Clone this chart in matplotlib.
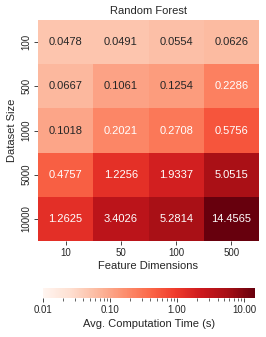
import matplotlib
matplotlib.use("Agg")
import matplotlib.pyplot as plt
import numpy as np
import seaborn as sns
from matplotlib.colors import LogNorm
from matplotlib.ticker import FormatStrFormatter

dataset_sizes = ["100", "500", "1000", "5000", "10000"]
feature_dims = ["10", "50", "100", "500"]
times = np.array([
	[0.0478, 0.0491, 0.0554, 0.0626],
	[0.0667, 0.1061, 0.1254, 0.2286],
	[0.1018, 0.2021, 0.2708, 0.5756],
	[0.4757, 1.2256, 1.9337, 5.0515],
	[1.2625, 3.4026, 5.2814, 14.4565],
])
cbar_ticks = [0.01, 0.1, 1.0, 10.0]

sns.set_style("ticks")
plt.rcParams["font.family"] = ["Liberation Sans", "DejaVu Sans"]
plt.rcParams["text.color"] = "#262626"

fig = plt.figure(figsize=(2.66, 3.37), dpi=100)
ax = fig.add_axes([38 / 266, 1 - 241 / 337, 221 / 266, 221 / 337])
cax = fig.add_axes([43 / 266, 1 - 298 / 337, 212 / 266, 10 / 337])

norm = LogNorm(vmin=0.01, vmax=times.max())
sns.heatmap(
	times, ax=ax, cmap="Reds", norm=norm, annot=True, fmt=".4f",
	annot_kws={"size": 8}, xticklabels=feature_dims, yticklabels=dataset_sizes,
	cbar_ax=cax, cbar_kws={"orientation": "horizontal"},
)
# light text on the darker cells
for txt, val in zip(ax.texts, times.flatten()):
	txt.set_color("white" if val > 0.15 else "#262626")

ax.set_title("Random Forest", fontsize=8, pad=4)
ax.set_xlabel("Feature Dimensions", fontsize=8, labelpad=2)
ax.set_ylabel("Dataset Size", fontsize=8, labelpad=3)
ax.tick_params(axis="both", labelsize=7, length=3, width=0.6, pad=2,
	colors="#262626")
ax.set_yticklabels(dataset_sizes, rotation=90, va="center")

cbar = ax.collections[0].colorbar
cbar.set_ticks(cbar_ticks)
cbar.ax.xaxis.set_major_formatter(FormatStrFormatter("%.2f"))
cbar.ax.tick_params(which="major", labelsize=7, length=3, width=0.6, pad=2,
	colors="#262626")
cbar.ax.tick_params(which="minor", length=2, width=0.5, colors="#262626")
cbar.outline.set_visible(False)
cbar.set_label("Avg. Computation Time (s)", fontsize=8, labelpad=3)

fig.savefig("out.png", dpi=100)
